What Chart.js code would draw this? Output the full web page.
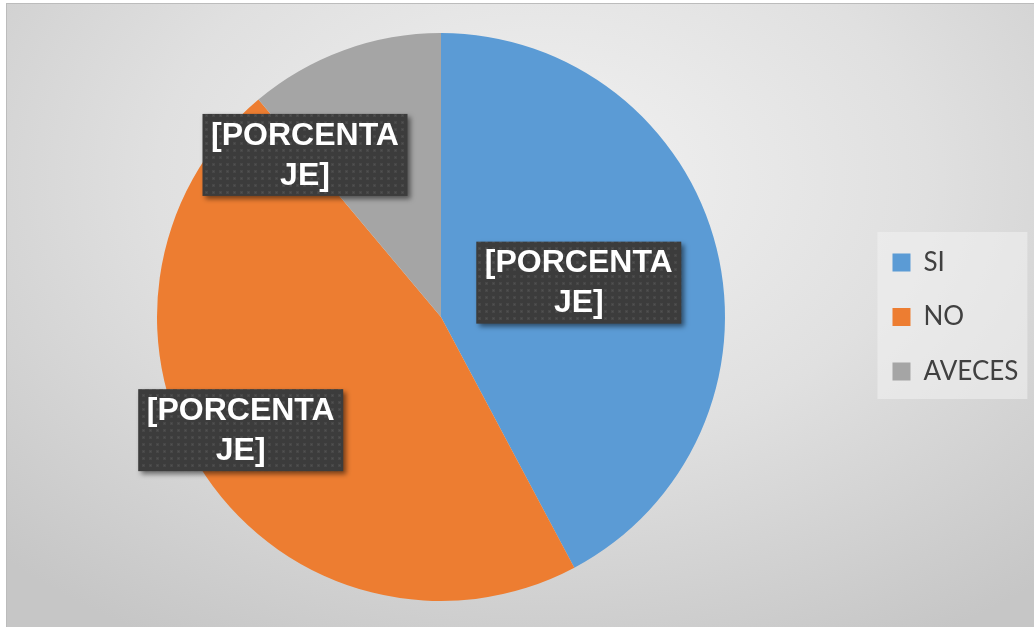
<!DOCTYPE html>
<html>
<head>
<meta charset="utf-8">
<script src="https://cdn.jsdelivr.net/npm/chart.js@4.4.1/dist/chart.umd.min.js"></script>
<style>
  html, body { margin: 0; padding: 0; background: #fff; }
  #frame {
    position: absolute; left: 6px; top: 3px; width: 1028px; height: 624px;
    border-top: 1px solid #bcbcbc; border-left: 1px solid #bcbcbc;
    background: radial-gradient(ellipse 75% 85% at 52% 28%, #f2f2f2 0%, #e0e0e0 50%, #c6c6c6 100%);
  }
  #wrap { position: absolute; left: 0; top: 0; width: 1034px; height: 627px; }
</style>
</head>
<body>
<div id="frame"></div>
<div id="wrap"><canvas id="pieChart" width="1034" height="627"></canvas></div>
<script>
// Data
const categories = ['SI', 'NO', 'AVECES'];
const responses = [19, 21, 5];
const sliceColors = ['#5B9BD5', '#ED7D31', '#A5A5A5'];
const labelLines = ['[PORCENTA', 'JE]'];

// Where each data label sits: fraction along the slice, fraction of the radius
const labelAngleFrac = [0.5, 0.527, 0.0];
const labelRadiusFrac = [0.5, 0.81, 0.745];

// Dotted dark fill for the label boxes
function makeDotPattern(ctx) {
    const tile = document.createElement('canvas');
    tile.width = 7; tile.height = 7;
    const t = tile.getContext('2d');
    t.fillStyle = '#3c3c3c';
    t.fillRect(0, 0, 7, 7);
    t.fillStyle = '#474747';
    t.fillRect(2, 2, 3, 3);
    t.fillStyle = '#525252';
    t.fillRect(3, 3, 1, 1);
    return ctx.createPattern(tile, 'repeat');
}

// Light box behind the legend
const legendBoxPlugin = {
    id: 'legendBox',
    beforeDraw(chart) {
        const lg = chart.legend;
        if (!lg || !lg.columnSizes || !lg.columnSizes.length) return;
        const pad = lg.options.labels.padding;
        const colH = lg.columnSizes[0].height;
        const top = (lg.top + pad + lg.bottom - colH) / 2;
        const x0 = lg.left + pad - 15;
        const y0 = top - 17.5;
        const x1 = lg.right - 1;
        const y1 = top + colH - pad + 14.5;
        const ctx = chart.ctx;
        ctx.save();
        ctx.fillStyle = 'rgba(242,242,242,0.55)';
        ctx.fillRect(x0, y0, x1 - x0, y1 - y0);
        ctx.restore();
    }
};

// Data labels in dark boxes
const dataLabelPlugin = {
    id: 'dataLabels',
    afterDatasetsDraw(chart) {
        const ctx = chart.ctx;
        const pattern = makeDotPattern(ctx);
        const arcs = chart.getDatasetMeta(0).data;
        arcs.forEach((arc, i) => {
            const p = arc.getProps(['x', 'y', 'startAngle', 'endAngle', 'outerRadius'], true);
            const a = p.startAngle + labelAngleFrac[i] * (p.endAngle - p.startAngle);
            const r = p.outerRadius * labelRadiusFrac[i];
            const cx = p.x + Math.cos(a) * r;
            const cy = p.y + Math.sin(a) * r;
            const w = 205, h = 82;

            ctx.save();
            ctx.shadowColor = 'rgba(0,0,0,0.5)';
            ctx.shadowBlur = 5;
            ctx.shadowOffsetX = 3;
            ctx.shadowOffsetY = 3;
            ctx.fillStyle = pattern;
            ctx.fillRect(cx - w / 2, cy - h / 2, w, h);
            ctx.restore();

            ctx.save();
            ctx.fillStyle = '#ffffff';
            ctx.font = 'bold 32px "Liberation Sans", Arial, sans-serif';
            ctx.textAlign = 'center';
            ctx.textBaseline = 'middle';
            ctx.fillText(labelLines[0], cx, cy - 19);
            ctx.fillText(labelLines[1], cx, cy + 21);
            ctx.restore();
        });
    }
};

const ctx = document.getElementById('pieChart').getContext('2d');
const pieChart = new Chart(ctx, {
    type: 'pie',
    data: {
        labels: categories,
        datasets: [{
            data: responses,
            backgroundColor: sliceColors,
            borderWidth: 0,
        }],
    },
    options: {
        responsive: false,
        animation: false,
        devicePixelRatio: 1,
        layout: { padding: { top: 33, bottom: 26, left: 18, right: 5.6 } },
        plugins: {
            tooltip: { enabled: false },
            legend: {
                position: 'right',
                align: 'center',
                labels: {
                    boxWidth: 18,
                    boxHeight: 18,
                    padding: 28.5,
                    color: '#404040',
                    font: { family: 'Lato, "Liberation Sans", Arial, sans-serif', size: 26 },
                },
            },
        },
    },
    plugins: [legendBoxPlugin, dataLabelPlugin],
});
</script>
</body>
</html>
